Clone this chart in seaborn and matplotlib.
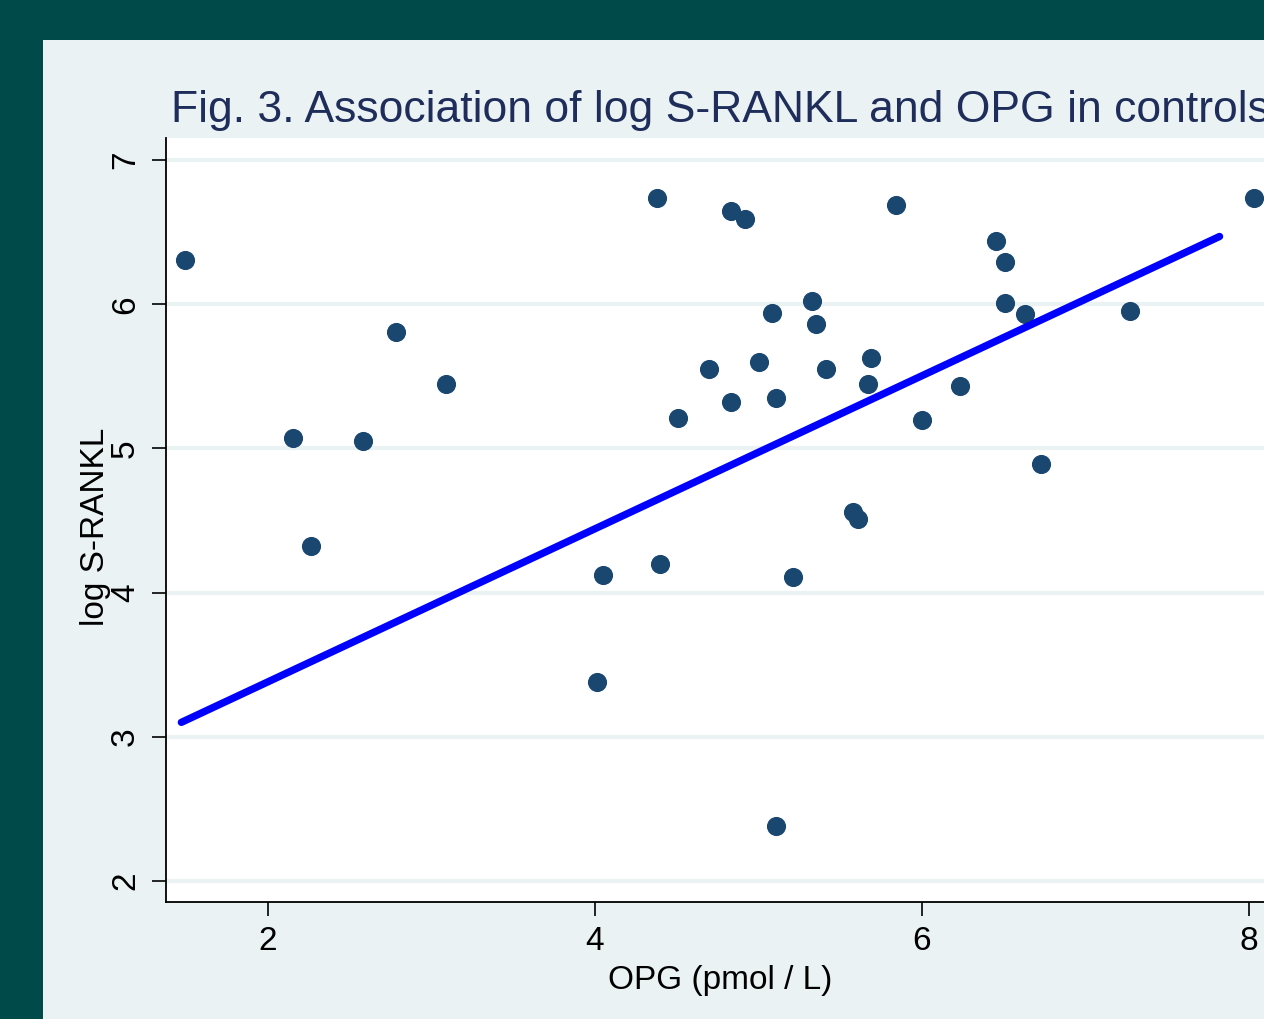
import numpy as np
import pandas as pd
import matplotlib
matplotlib.use("Agg")
import matplotlib.pyplot as plt
from matplotlib.patches import Rectangle
import seaborn as sns

# data (OPG in pmol/L, log S-RANKL)
opg = [1.49, 2.15, 2.26, 2.58, 2.78, 3.09, 4.01, 4.05, 4.38, 4.40,
       4.51, 4.70, 4.83, 4.83, 4.92, 5.00, 5.08, 5.11, 5.11, 5.21,
       5.33, 5.35, 5.41, 5.58, 5.61, 5.67, 5.69, 5.84, 6.00, 6.23,
       6.45, 6.51, 6.51, 6.63, 6.73, 7.27, 8.03]
log_srankl = [6.31, 5.07, 4.32, 5.05, 5.81, 5.45, 3.38, 4.12, 6.74, 4.20,
              5.21, 5.55, 6.65, 5.32, 6.59, 5.60, 5.94, 5.35, 2.38, 4.11,
              6.02, 5.86, 5.55, 4.56, 4.51, 5.45, 5.63, 6.69, 5.20, 5.43,
              6.44, 6.29, 6.01, 5.93, 4.89, 5.95, 6.74]

# fitted line (end points)
fit_x = [1.47, 7.82]
fit_y = [3.10, 6.47]

x_ticks = [2, 4, 6, 8]
y_ticks = [2, 3, 4, 5, 6, 7]

df = pd.DataFrame({"opg": opg, "log_srankl": log_srankl})
df_fit = pd.DataFrame({"opg": fit_x, "log_srankl": fit_y})

sns.set_theme(style="white")
plt.rcParams["font.family"] = ["Liberation Sans", "DejaVu Sans"]

W, H = 1264, 1019
fig = plt.figure(figsize=(W / 100, H / 100), dpi=100, facecolor="#014a4a")

# light panel behind the plot
fig.patches.append(Rectangle((43 / W, 0), 1, 1 - 40 / H, transform=fig.transFigure,
                             facecolor="#eaf2f3", edgecolor="none", zorder=-10))

ax = fig.add_axes([166 / W, 1 - 902 / H, 1108 / W, 764 / H])
ax.set_facecolor("white")

sns.scatterplot(data=df, x="opg", y="log_srankl", ax=ax, color="#1a476f",
                s=190, linewidth=0, zorder=3)
sns.lineplot(data=df_fit, x="opg", y="log_srankl", ax=ax, color="#0000ff",
             linewidth=5.3, zorder=4)

ax.set_xlim(1.376, 8.153)
ax.set_ylim(1.854, 7.153)
ax.set_xticks(x_ticks)
ax.set_yticks(y_ticks)
ax.set_xticklabels([str(t) for t in x_ticks])
ax.set_yticklabels([str(t) for t in y_ticks])

# grid on y only
for t in y_ticks:
    ax.axhline(t, color="#eaf2f3", linewidth=3, zorder=1)

for side in ["top", "right"]:
    ax.spines[side].set_visible(False)
for side in ["left", "bottom"]:
    ax.spines[side].set_color("black")
    ax.spines[side].set_linewidth(1.3)

ax.tick_params(axis="both", which="major", direction="out", length=10, width=1.2,
               color="black", labelsize=24, labelcolor="black",
               left=True, bottom=True)
ax.tick_params(axis="y", pad=8)
ax.tick_params(axis="x", pad=7)
plt.setp(ax.get_yticklabels(), rotation=90, va="center")

ax.set_xlabel("OPG (pmol / L)", fontsize=24, color="black", labelpad=6)
ax.set_ylabel("log S-RANKL", fontsize=24, color="black")
ax.yaxis.label.set_va("center")
ax.yaxis.set_label_coords(-0.064, 0.491)

fig.text(720 / W, 1 - 122 / H, "Fig. 3. Association of log S-RANKL and OPG in controls",
         ha="center", va="baseline", fontsize=32, color="#1f2d5a")

fig.savefig("out.png", dpi=100, facecolor=fig.get_facecolor())
